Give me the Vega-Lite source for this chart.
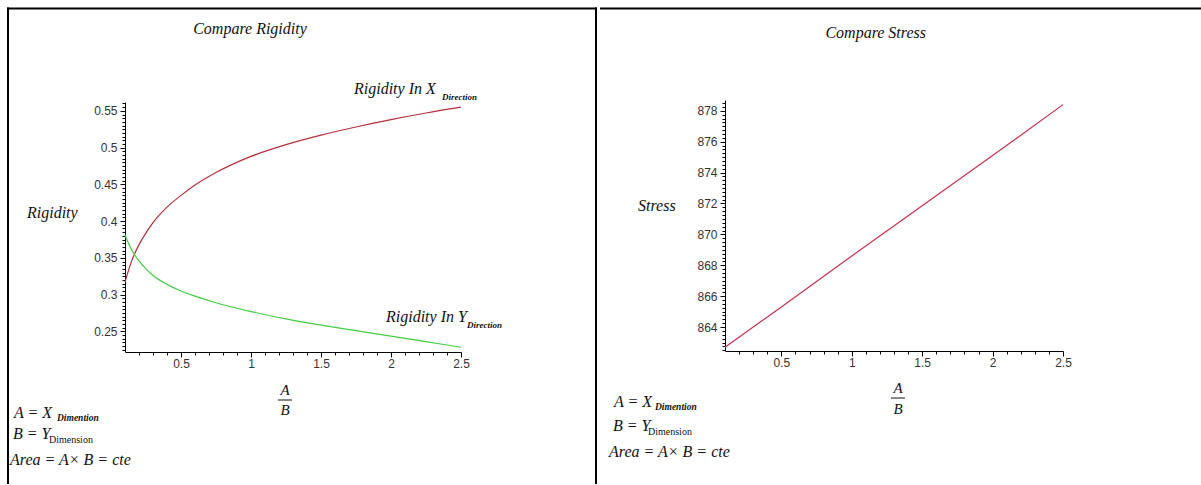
{
  "$schema": "https://vega.github.io/schema/vega-lite/v6.json",
  "padding": 0,
  "background": "white",
  "spacing": 0,
  "config": {"view": {"stroke": null}, "concat": {"spacing": 0}},
  "hconcat": [
    {
      "width": 597,
      "height": 485,
      "resolve": {"axis": {"x": "independent", "y": "independent"}},
      "layer": [
        {
          "data": {"values": [
            {"ratio": 0.1, "direction": "X", "rigidity": 0.317},
            {"ratio": 0.12, "direction": "X", "rigidity": 0.33},
            {"ratio": 0.15, "direction": "X", "rigidity": 0.347},
            {"ratio": 0.2, "direction": "X", "rigidity": 0.368},
            {"ratio": 0.25, "direction": "X", "rigidity": 0.384},
            {"ratio": 0.3, "direction": "X", "rigidity": 0.398},
            {"ratio": 0.4, "direction": "X", "rigidity": 0.419},
            {"ratio": 0.5, "direction": "X", "rigidity": 0.435},
            {"ratio": 0.6, "direction": "X", "rigidity": 0.449},
            {"ratio": 0.75, "direction": "X", "rigidity": 0.466},
            {"ratio": 1.0, "direction": "X", "rigidity": 0.488},
            {"ratio": 1.25, "direction": "X", "rigidity": 0.504},
            {"ratio": 1.5, "direction": "X", "rigidity": 0.517},
            {"ratio": 1.75, "direction": "X", "rigidity": 0.528},
            {"ratio": 2.0, "direction": "X", "rigidity": 0.538},
            {"ratio": 2.25, "direction": "X", "rigidity": 0.547},
            {"ratio": 2.5, "direction": "X", "rigidity": 0.555},
            {"ratio": 0.1, "direction": "Y", "rigidity": 0.381},
            {"ratio": 0.12, "direction": "Y", "rigidity": 0.372},
            {"ratio": 0.15, "direction": "Y", "rigidity": 0.36},
            {"ratio": 0.2, "direction": "Y", "rigidity": 0.346},
            {"ratio": 0.25, "direction": "Y", "rigidity": 0.335},
            {"ratio": 0.3, "direction": "Y", "rigidity": 0.326},
            {"ratio": 0.4, "direction": "Y", "rigidity": 0.314},
            {"ratio": 0.5, "direction": "Y", "rigidity": 0.305},
            {"ratio": 0.6, "direction": "Y", "rigidity": 0.298},
            {"ratio": 0.75, "direction": "Y", "rigidity": 0.289},
            {"ratio": 1.0, "direction": "Y", "rigidity": 0.277},
            {"ratio": 1.25, "direction": "Y", "rigidity": 0.267},
            {"ratio": 1.5, "direction": "Y", "rigidity": 0.2585},
            {"ratio": 1.75, "direction": "Y", "rigidity": 0.251},
            {"ratio": 2.0, "direction": "Y", "rigidity": 0.2435},
            {"ratio": 2.25, "direction": "Y", "rigidity": 0.236},
            {"ratio": 2.5, "direction": "Y", "rigidity": 0.2285}
          ]},
          "mark": {"type": "line", "interpolate": "monotone", "strokeWidth": 1.2},
          "encoding": {
            "x": {"field": "ratio", "type": "quantitative",
              "scale": {"domain": [0.1, 2.5], "range": [125, 461], "nice": false, "zero": false},
              "axis": {"orient": "bottom", "offset": -133, "values": [0.5, 1, 1.5, 2, 2.5], "format": "~g", "title": null, "grid": false,
                "domainColor": "#000", "tickColor": "#000", "tickSize": 5, "labelFont": "Liberation Sans", "labelFontSize": 12,
                "labelColor": "#333", "labelPadding": 1, "labelFlush": false, "labelOverlap": false, "labelBound": false}},
            "y": {"field": "rigidity", "type": "quantitative",
              "scale": {"domain": [0.222, 0.562], "range": [352, 102], "nice": false, "zero": false},
              "axis": {"orient": "left", "offset": -125, "values": [0.25, 0.3, 0.35, 0.4, 0.45, 0.5, 0.55], "format": "~g", "title": null, "grid": false,
                "domainColor": "#000", "tickColor": "#000", "tickSize": 5, "labelFont": "Liberation Sans", "labelFontSize": 12,
                "labelColor": "#333", "labelPadding": 3, "labelFlush": false, "labelOverlap": false, "labelBound": false}},
            "color": {"field": "direction", "type": "nominal", "scale": {"domain": ["X", "Y"], "range": ["#b3303a", "#44cc44"]}, "legend": null}
          }
        },
        {
          "data": {"values": [{"label": "Compare Rigidity"}]},
          "mark": {"type": "text", "font": "Liberation Serif", "fontStyle": "italic", "fontSize": 16, "align": "center", "baseline": "alphabetic", "color": "#111"},
          "encoding": {
            "x": {"datum": 0.99286, "axis": {"orient": "bottom", "offset": -133, "values": [0.2, 0.3, 0.4, 0.6, 0.7, 0.8, 0.9, 1.1, 1.2, 1.3, 1.4, 1.6, 1.7, 1.8, 1.9, 2.1, 2.2, 2.3, 2.4], "labels": false, "domain": false, "grid": false, "title": null, "tickColor": "#000", "tickSize": 3}},
            "y": {"datum": 0.65448, "axis": {"orient": "left", "offset": -125, "values": [0.225, 0.23, 0.235, 0.24, 0.245, 0.255, 0.26, 0.265, 0.27, 0.275, 0.28, 0.285, 0.29, 0.295, 0.305, 0.31, 0.315, 0.32, 0.325, 0.33, 0.335, 0.34, 0.345, 0.355, 0.36, 0.365, 0.37, 0.375, 0.38, 0.385, 0.39, 0.395, 0.405, 0.41, 0.415, 0.42, 0.425, 0.43, 0.435, 0.44, 0.445, 0.455, 0.46, 0.465, 0.47, 0.475, 0.48, 0.485, 0.49, 0.495, 0.505, 0.51, 0.515, 0.52, 0.525, 0.53, 0.535, 0.54, 0.545, 0.555, 0.56], "labels": false, "domain": false, "grid": false, "title": null, "tickColor": "#000", "tickSize": 3}},
            "text": {"field": "label"}
          }
        },
        {
          "data": {"values": [{"label": "Rigidity"}]},
          "mark": {"type": "text", "font": "Liberation Serif", "fontStyle": "italic", "fontSize": 16, "align": "left", "baseline": "alphabetic", "color": "#111"},
          "encoding": {"x": {"datum": -0.6, "axis": null}, "y": {"datum": 0.40424, "axis": null}, "text": {"field": "label"}}
        },
        {
          "data": {"values": [{"label": "Rigidity In X"}]},
          "mark": {"type": "text", "font": "Liberation Serif", "fontStyle": "italic", "fontSize": 16, "align": "left", "baseline": "alphabetic", "color": "#111"},
          "encoding": {"x": {"datum": 1.73571, "axis": null}, "y": {"datum": 0.57288, "axis": null}, "text": {"field": "label"}}
        },
        {
          "data": {"values": [{"label": "Direction"}]},
          "mark": {"type": "text", "font": "Liberation Serif", "fontStyle": "italic", "fontWeight": "bold", "fontSize": 9, "align": "left", "baseline": "alphabetic", "color": "#111"},
          "encoding": {"x": {"datum": 2.36429, "axis": null}, "y": {"datum": 0.56472, "axis": null}, "text": {"field": "label"}}
        },
        {
          "data": {"values": [{"label": "Rigidity In Y"}]},
          "mark": {"type": "text", "font": "Liberation Serif", "fontStyle": "italic", "fontSize": 16, "align": "left", "baseline": "alphabetic", "color": "#111"},
          "encoding": {"x": {"datum": 1.96429, "axis": null}, "y": {"datum": 0.2628, "axis": null}, "text": {"field": "label"}}
        },
        {
          "data": {"values": [{"label": "Direction"}]},
          "mark": {"type": "text", "font": "Liberation Serif", "fontStyle": "italic", "fontWeight": "bold", "fontSize": 9, "align": "left", "baseline": "alphabetic", "color": "#111"},
          "encoding": {"x": {"datum": 2.54286, "axis": null}, "y": {"datum": 0.25464, "axis": null}, "text": {"field": "label"}}
        },
        {
          "data": {"values": [{"label": "A"}]},
          "mark": {"type": "text", "font": "Liberation Serif", "fontStyle": "italic", "fontSize": 15, "align": "center", "baseline": "alphabetic", "color": "#111"},
          "encoding": {"x": {"datum": 1.24286, "axis": null}, "y": {"datum": 0.16352, "axis": null}, "text": {"field": "label"}}
        },
        {
          "data": {"values": [{}]},
          "mark": {"type": "rule", "color": "#111", "strokeWidth": 1},
          "encoding": {"x": {"datum": 1.19286, "axis": null}, "x2": {"datum": 1.29286}, "y": {"datum": 0.15672, "axis": null}}
        },
        {
          "data": {"values": [{"label": "B"}]},
          "mark": {"type": "text", "font": "Liberation Serif", "fontStyle": "italic", "fontSize": 15, "align": "center", "baseline": "alphabetic", "color": "#111"},
          "encoding": {"x": {"datum": 1.24286, "axis": null}, "y": {"datum": 0.13632, "axis": null}, "text": {"field": "label"}}
        },
        {
          "data": {"values": [{"label": "A = X"}]},
          "mark": {"type": "text", "font": "Liberation Serif", "fontStyle": "italic", "fontSize": 16, "align": "left", "baseline": "alphabetic", "color": "#111"},
          "encoding": {"x": {"datum": -0.69286, "axis": null}, "y": {"datum": 0.13224, "axis": null}, "text": {"field": "label"}}
        },
        {
          "data": {"values": [{"label": "Dimention"}]},
          "mark": {"type": "text", "font": "Liberation Serif", "fontStyle": "italic", "fontWeight": "bold", "fontSize": 9.5, "align": "left", "baseline": "alphabetic", "color": "#111"},
          "encoding": {"x": {"datum": -0.38571, "axis": null}, "y": {"datum": 0.12816, "axis": null}, "text": {"field": "label"}}
        },
        {
          "data": {"values": [{"label": "B = Y"}]},
          "mark": {"type": "text", "font": "Liberation Serif", "fontStyle": "italic", "fontSize": 16, "align": "left", "baseline": "alphabetic", "color": "#111"},
          "encoding": {"x": {"datum": -0.7, "axis": null}, "y": {"datum": 0.10368, "axis": null}, "text": {"field": "label"}}
        },
        {
          "data": {"values": [{"label": "Dimension"}]},
          "mark": {"type": "text", "font": "Liberation Serif", "fontSize": 10, "align": "left", "baseline": "alphabetic", "color": "#111"},
          "encoding": {"x": {"datum": -0.44286, "axis": null}, "y": {"datum": 0.09824, "axis": null}, "text": {"field": "label"}}
        },
        {
          "data": {"values": [{"label": "Area = A× B = cte"}]},
          "mark": {"type": "text", "font": "Liberation Serif", "fontStyle": "italic", "fontSize": 16, "align": "left", "baseline": "alphabetic", "color": "#111"},
          "encoding": {"x": {"datum": -0.72143, "axis": null}, "y": {"datum": 0.06832, "axis": null}, "text": {"field": "label"}}
        },
        {
          "data": {"values": [{}]},
          "mark": {"type": "rule", "color": "#000", "strokeWidth": 2},
          "encoding": {"x": {"datum": -0.74286, "axis": null}, "x2": {"datum": 3.47143}, "y": {"datum": 0.68916, "axis": null}}
        },
        {
          "data": {"values": [{}]},
          "mark": {"type": "rule", "color": "#000", "strokeWidth": 2},
          "encoding": {"x": {"datum": -0.73571, "axis": null}, "y": {"datum": 0.69052, "axis": null}, "y2": {"datum": 0.04248}}
        },
        {
          "data": {"values": [{}]},
          "mark": {"type": "rule", "color": "#000", "strokeWidth": 2},
          "encoding": {"x": {"datum": 3.46429, "axis": null}, "y": {"datum": 0.69052, "axis": null}, "y2": {"datum": 0.04248}}
        }
      ]
    },
    {
      "width": 604,
      "height": 485,
      "resolve": {"axis": {"x": "independent", "y": "independent"}},
      "layer": [
        {
          "data": {"values": [
            {"ratio": 0.1, "stress": 862.7},
            {"ratio": 0.5, "stress": 865.3},
            {"ratio": 1.0, "stress": 868.6},
            {"ratio": 1.5, "stress": 871.85},
            {"ratio": 2.0, "stress": 875.1},
            {"ratio": 2.5, "stress": 878.4}
          ]},
          "mark": {"type": "line", "color": "#c8304f", "strokeWidth": 1.2},
          "encoding": {
            "x": {"field": "ratio", "type": "quantitative",
              "scale": {"domain": [0.1, 2.5], "range": [125, 463], "nice": false, "zero": false},
              "axis": {"orient": "bottom", "offset": -134, "values": [0.5, 1, 1.5, 2, 2.5], "format": "~g", "title": null, "grid": false,
                "domainColor": "#000", "tickColor": "#000", "tickSize": 5, "labelFont": "Liberation Sans", "labelFontSize": 12,
                "labelColor": "#333", "labelPadding": 1, "labelFlush": false, "labelOverlap": false, "labelBound": false}},
            "y": {"field": "stress", "type": "quantitative",
              "scale": {"domain": [862.45, 878.7], "range": [351, 100], "nice": false, "zero": false},
              "axis": {"orient": "left", "offset": -125, "values": [864, 866, 868, 870, 872, 874, 876, 878], "format": "d", "title": null, "grid": false,
                "domainColor": "#000", "tickColor": "#000", "tickSize": 5, "labelFont": "Liberation Sans", "labelFontSize": 12,
                "labelColor": "#333", "labelPadding": 3, "labelFlush": false, "labelOverlap": false, "labelBound": false}}
          }
        },
        {
          "data": {"values": [{"label": "Compare Stress"}]},
          "mark": {"type": "text", "font": "Liberation Serif", "fontStyle": "italic", "fontSize": 16, "align": "center", "baseline": "alphabetic", "color": "#111"},
          "encoding": {
            "x": {"datum": 1.17006, "axis": {"orient": "bottom", "offset": -134, "values": [0.2, 0.3, 0.4, 0.6, 0.7, 0.8, 0.9, 1.1, 1.2, 1.3, 1.4, 1.6, 1.7, 1.8, 1.9, 2.1, 2.2, 2.3, 2.4], "labels": false, "domain": false, "grid": false, "title": null, "tickColor": "#000", "tickSize": 3}},
            "y": {"datum": 882.682, "axis": {"orient": "left", "offset": -125, "values": [862.5, 862.75, 863, 863.25, 863.5, 863.75, 864.25, 864.5, 864.75, 865, 865.25, 865.5, 865.75, 866.25, 866.5, 866.75, 867, 867.25, 867.5, 867.75, 868.25, 868.5, 868.75, 869, 869.25, 869.5, 869.75, 870.25, 870.5, 870.75, 871, 871.25, 871.5, 871.75, 872.25, 872.5, 872.75, 873, 873.25, 873.5, 873.75, 874.25, 874.5, 874.75, 875, 875.25, 875.5, 875.75, 876.25, 876.5, 876.75, 877, 877.25, 877.5, 877.75, 878.25, 878.5], "labels": false, "domain": false, "grid": false, "title": null, "tickColor": "#000", "tickSize": 3}},
            "text": {"field": "label"}
          }
        },
        {
          "data": {"values": [{"label": "Stress"}]},
          "mark": {"type": "text", "font": "Liberation Serif", "fontStyle": "italic", "fontSize": 16, "align": "left", "baseline": "alphabetic", "color": "#111"},
          "encoding": {"x": {"datum": -0.51775, "axis": null}, "y": {"datum": 871.514, "axis": null}, "text": {"field": "label"}}
        },
        {
          "data": {"values": [{"label": "A"}]},
          "mark": {"type": "text", "font": "Liberation Serif", "fontStyle": "italic", "fontSize": 15, "align": "center", "baseline": "alphabetic", "color": "#111"},
          "encoding": {"x": {"datum": 1.3284, "axis": null}, "y": {"datum": 859.731, "axis": null}, "text": {"field": "label"}}
        },
        {
          "data": {"values": [{}]},
          "mark": {"type": "rule", "color": "#111", "strokeWidth": 1},
          "encoding": {"x": {"datum": 1.2787, "axis": null}, "x2": {"datum": 1.37811}, "y": {"datum": 859.407, "axis": null}}
        },
        {
          "data": {"values": [{"label": "B"}]},
          "mark": {"type": "text", "font": "Liberation Serif", "fontStyle": "italic", "fontSize": 15, "align": "center", "baseline": "alphabetic", "color": "#111"},
          "encoding": {"x": {"datum": 1.3284, "axis": null}, "y": {"datum": 858.371, "axis": null}, "text": {"field": "label"}}
        },
        {
          "data": {"values": [{"label": "A = X"}]},
          "mark": {"type": "text", "font": "Liberation Serif", "fontStyle": "italic", "fontSize": 16, "align": "left", "baseline": "alphabetic", "color": "#111"},
          "encoding": {"x": {"datum": -0.68817, "axis": null}, "y": {"datum": 858.8245, "axis": null}, "text": {"field": "label"}}
        },
        {
          "data": {"values": [{"label": "Dimention"}]},
          "mark": {"type": "text", "font": "Liberation Serif", "fontStyle": "italic", "fontWeight": "bold", "fontSize": 9.5, "align": "left", "baseline": "alphabetic", "color": "#111"},
          "encoding": {"x": {"datum": -0.39704, "axis": null}, "y": {"datum": 858.63, "axis": null}, "text": {"field": "label"}}
        },
        {
          "data": {"values": [{"label": "B = Y"}]},
          "mark": {"type": "text", "font": "Liberation Serif", "fontStyle": "italic", "fontSize": 16, "align": "left", "baseline": "alphabetic", "color": "#111"},
          "encoding": {"x": {"datum": -0.69527, "axis": null}, "y": {"datum": 857.271, "axis": null}, "text": {"field": "label"}}
        },
        {
          "data": {"values": [{"label": "Dimension"}]},
          "mark": {"type": "text", "font": "Liberation Serif", "fontSize": 10, "align": "left", "baseline": "alphabetic", "color": "#111"},
          "encoding": {"x": {"datum": -0.44675, "axis": null}, "y": {"datum": 857.012, "axis": null}, "text": {"field": "label"}}
        },
        {
          "data": {"values": [{"label": "Area = A× B = cte"}]},
          "mark": {"type": "text", "font": "Liberation Serif", "fontStyle": "italic", "fontSize": 16, "align": "left", "baseline": "alphabetic", "color": "#111"},
          "encoding": {"x": {"datum": -0.72367, "axis": null}, "y": {"datum": 855.587, "axis": null}, "text": {"field": "label"}}
        },
        {
          "data": {"values": [{}]},
          "mark": {"type": "rule", "color": "#000", "strokeWidth": 2},
          "encoding": {"x": {"datum": -0.78757, "axis": null}, "x2": {"datum": 3.49408}, "y": {"datum": 884.624, "axis": null}}
        }
      ]
    }
  ]
}
